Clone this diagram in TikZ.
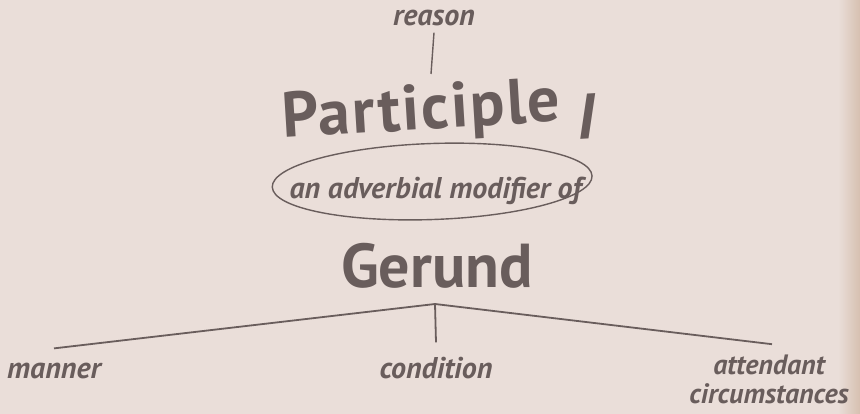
\documentclass[tikz,border=0pt]{standalone}
\usepackage{fontspec}
\setmainfont{PT Sans}
\usetikzlibrary{positioning,calc}
\definecolor{ink}{RGB}{105,93,92}
\definecolor{paper}{RGB}{234,222,217}
\definecolor{fold}{RGB}{214,192,176}

\begin{document}
\begin{tikzpicture}[
  x=1pt, y=-1pt,
  case/.style={font=\fontsize{30}{31}\selectfont\bfseries\itshape, text=ink, inner sep=0pt},
  headword/.style={font=\fontsize{#1}{#1}\selectfont\bfseries, text=ink, inner sep=0pt},
  branch/.style={draw=ink, line width=1.8pt},
  stem/.style={draw=ink, line width=1.4pt}]
  \fill[paper] (0,0) rectangle (860,414);
  \useasboundingbox (0,0) rectangle (860,414);
  \fill[left color=paper, right color=fold] (838,0) rectangle (860,414);

  \node[case, anchor=base] (reason) at (434,26) {reason};
  \node[headword=64, anchor=base west, rotate=3.5] (participle) at (283,138)
    {\addfontfeatures{LetterSpace=3}Participle\hspace{16pt}\raisebox{-20pt}{\itshape I}};
  \node[case, anchor=base] (modifier) at (435.5,199) {an adverbial modifier of};
  \node[headword=62, anchor=base] (gerund) at (437,288) {Gerund};

  \node[case, anchor=base] (manner) at (54,378) {manner};
  \node[case, anchor=base] (condition) at (436,378) {condition};
  \node[case, font=\fontsize{28}{29}\selectfont\bfseries\itshape, anchor=base, align=center]
    (attendant) at (769,403) {attendant\\circumstances};

  \coordinate (stemfoot) at (431,74);
  \coordinate (fork) at (435,304);

  \draw[stem] ([yshift=-6pt]reason.south) -- (stemfoot);
  \draw[stem, rotate=2] (modifier.center) ++(-3,-10) ellipse [x radius=160, y radius=38];
  \draw[branch] (fork) -- ([yshift=14pt]manner.north);
  \draw[branch] (fork) -- ([yshift=14pt]condition.north);
  \draw[branch] (fork) -- ([xshift=3pt,yshift=10pt]attendant.north);
\end{tikzpicture}
\end{document}
